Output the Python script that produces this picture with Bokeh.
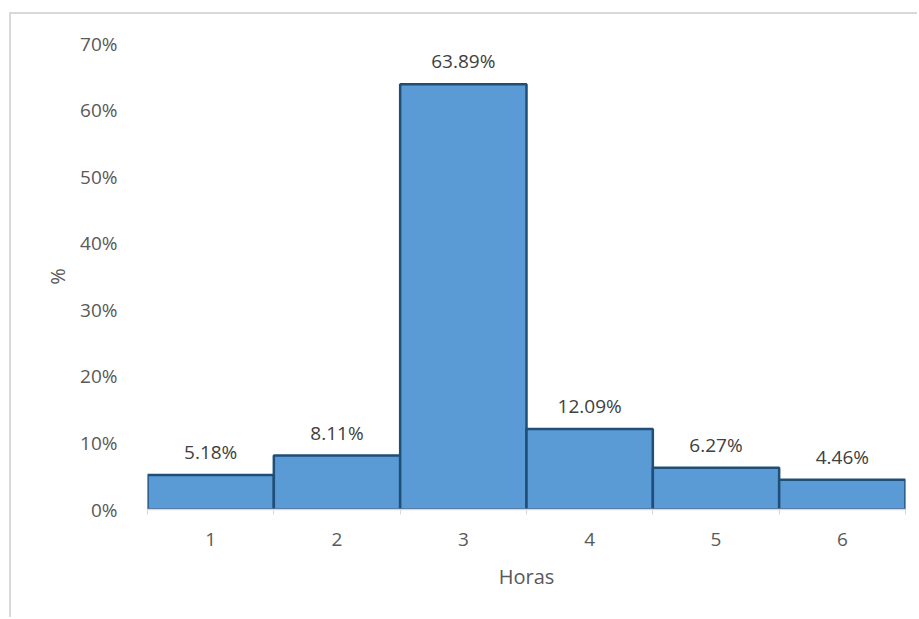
from bokeh.plotting import figure
from bokeh.models import ColumnDataSource, FixedTicker, NumeralTickFormatter, Range1d
from bokeh.core.properties import value
from bokeh.embed import file_html
from bokeh.resources import INLINE

# Share of cases by number of hours
horas = [1, 2, 3, 4, 5, 6]
porcentaje = [0.0518, 0.0811, 0.6389, 0.1209, 0.0627, 0.0446]
etiquetas = ["5.18%", "8.11%", "63.89%", "12.09%", "6.27%", "4.46%"]
y_ticks = [0, 0.1, 0.2, 0.3, 0.4, 0.5, 0.6, 0.7]

FONT = "Open Sans"
BORDER = 2

src = ColumnDataSource(dict(x=horas, top=porcentaje, label=etiquetas))

# chart area sits inside a light border on its top and left edges
p = figure(width=919 - 9 - BORDER, height=619 - 12 - BORDER,
           output_backend="svg", toolbar_location=None,
           x_range=Range1d(0.5, 6.5), y_range=Range1d(0, 0.70),
           min_border_left=147 - 9 - BORDER, min_border_right=14,
           min_border_top=43 - 12 - BORDER, min_border_bottom=110)
p.margin = (12, 0, 0, 9)
p.styles = {"border-top": f"{BORDER}px solid #D9D9D9",
            "border-left": f"{BORDER}px solid #D9D9D9"}
p.outline_line_color = None
p.xgrid.visible = False
p.ygrid.visible = False

p.vbar(x="x", top="top", width=1.0, bottom=0, source=src,
       fill_color="#5B9BD5", line_color="#1F4E79", line_width=2.5)

p.text(x="x", y="top", text="label", source=src, text_align="center",
       text_baseline="middle", y_offset=-23, text_font=value(FONT),
       text_font_size="19px", text_color="#404040")

# x axis
xa = p.xaxis[0]
xa.ticker = FixedTicker(ticks=horas, minor_ticks=[0.5, 1.5, 2.5, 3.5, 4.5, 5.5, 6.5])
xa.axis_line_color = "#D9D9D9"
xa.axis_line_width = 1.5
xa.major_tick_line_color = None
xa.minor_tick_line_color = "#D9D9D9"
xa.minor_tick_out = 5
xa.minor_tick_in = 0
xa.major_label_standoff = 17
xa.major_label_text_font = FONT
xa.major_label_text_font_size = "19px"
xa.major_label_text_color = "#595959"
xa.axis_label = "Horas"
xa.axis_label_text_font = FONT
xa.axis_label_text_font_size = "20px"
xa.axis_label_text_font_style = "normal"
xa.axis_label_text_color = "#595959"
xa.axis_label_standoff = 14

# y axis
ya = p.yaxis[0]
ya.ticker = FixedTicker(ticks=y_ticks)
ya.formatter = NumeralTickFormatter(format="0%")
ya.axis_line_color = None
ya.major_tick_line_color = None
ya.minor_tick_line_color = None
ya.major_label_standoff = 24
ya.major_label_text_font = FONT
ya.major_label_text_font_size = "19px"
ya.major_label_text_color = "#595959"
ya.axis_label = "%"
ya.axis_label_text_font = FONT
ya.axis_label_text_font_size = "20px"
ya.axis_label_text_font_style = "normal"
ya.axis_label_text_color = "#595959"
ya.axis_label_standoff = 6

open("out.html", "w").write(file_html(p, INLINE))
